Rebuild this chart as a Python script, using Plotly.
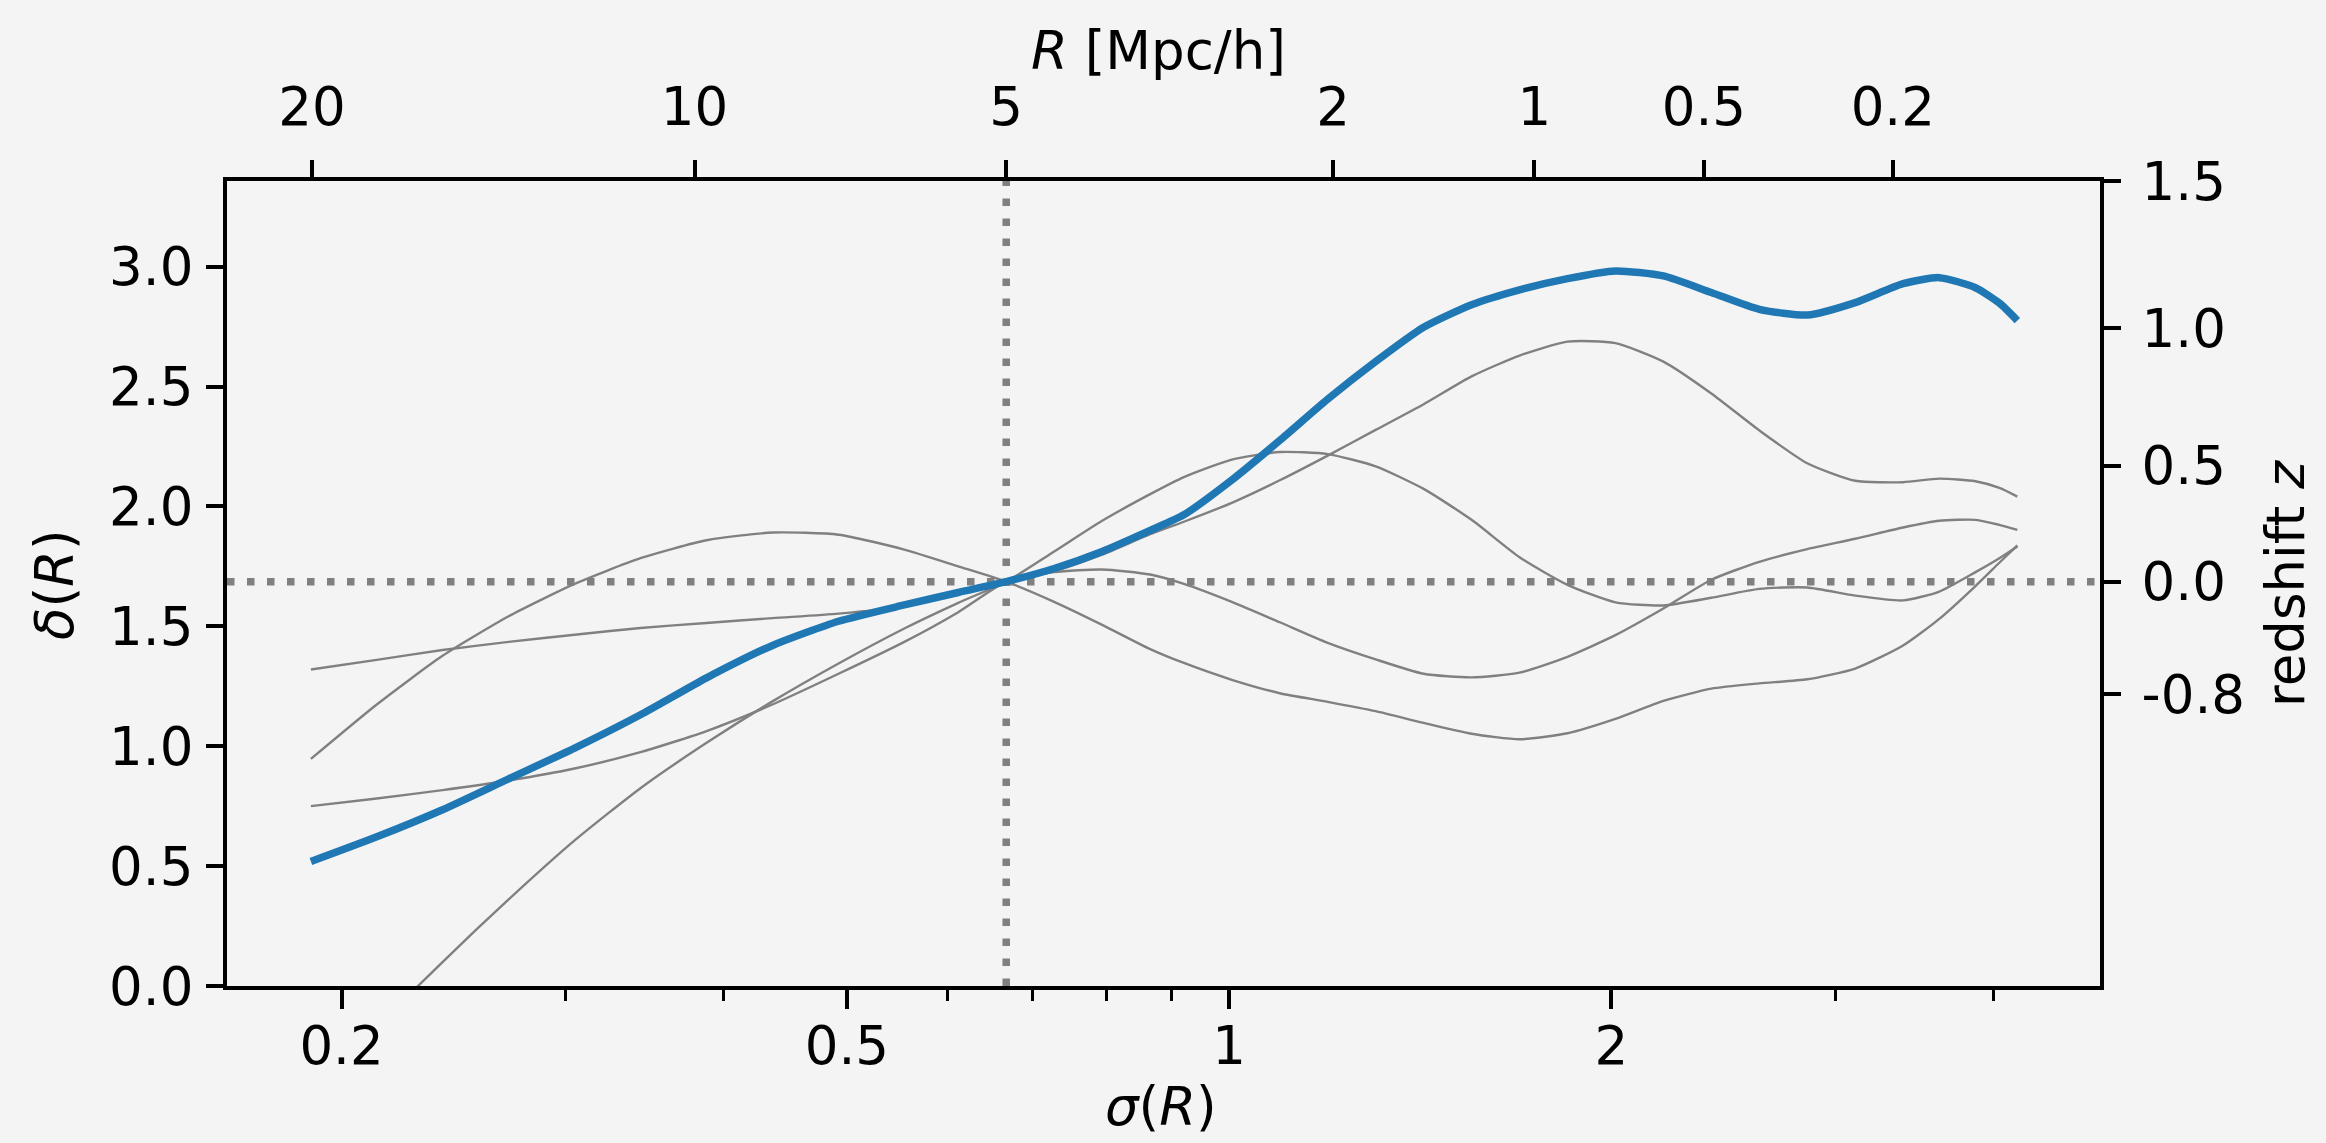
import math
import plotly.graph_objects as go

# ---------------- data ----------------
sigma = [0.1892, 0.2132, 0.2402, 0.2708, 0.3052, 0.3439, 0.3877, 0.4369, 0.4925, 0.5549,
         0.6119, 0.6675, 0.7281, 0.7943, 0.8666, 0.9212, 1.0048, 1.0961, 1.1957, 1.3043,
         1.4228, 1.5520, 1.6930, 1.8468, 2.0145, 2.1975, 2.3971, 2.6148, 2.8523, 3.1114,
         3.3940, 3.6240, 3.8698, 4.0410, 4.1750]

delta_blue = [0.519, 0.622, 0.735, 0.864, 0.992, 1.131, 1.285, 1.420, 1.521, 1.589,
              1.641, 1.686, 1.741, 1.812, 1.900, 1.965, 2.110, 2.275, 2.447, 2.604,
              2.747, 2.841, 2.903, 2.950, 2.982, 2.961, 2.892, 2.822, 2.798, 2.850,
              2.929, 2.954, 2.912, 2.848, 2.775]

delta_gray_a = [0.947, 1.174, 1.377, 1.542, 1.677, 1.784, 1.859, 1.891, 1.882, 1.820,
                1.750, 1.686, 1.602, 1.506, 1.405, 1.347, 1.277, 1.221, 1.185, 1.146,
                1.097, 1.052, 1.029, 1.054, 1.114, 1.189, 1.240, 1.262, 1.279, 1.324,
                1.420, 1.531, 1.668, 1.765, 1.837]

delta_gray_flat = [1.320, 1.360, 1.401, 1.435, 1.465, 1.493, 1.514, 1.534, 1.553, 1.583,
                   1.634, 1.686, 1.726, 1.737, 1.716, 1.677, 1.602, 1.517, 1.431, 1.362,
                   1.302, 1.287, 1.307, 1.373, 1.463, 1.574, 1.694, 1.769, 1.822, 1.865,
                   1.912, 1.940, 1.944, 1.923, 1.902]

delta_gray_steep = [-0.484, -0.174, 0.100, 0.361, 0.607, 0.825, 1.014, 1.187, 1.345, 1.491,
                    1.598, 1.686, 1.812, 1.940, 2.051, 2.122, 2.195, 2.227, 2.218, 2.167,
                    2.073, 1.944, 1.788, 1.673, 1.600, 1.587, 1.619, 1.656, 1.662, 1.628,
                    1.608, 1.645, 1.726, 1.784, 1.833]

delta_gray_b = [0.750, 0.782, 0.817, 0.857, 0.907, 0.975, 1.063, 1.174, 1.302, 1.435,
                1.559, 1.686, 1.730, 1.799, 1.884, 1.936, 2.015, 2.109, 2.212, 2.319,
                2.426, 2.542, 2.629, 2.687, 2.681, 2.604, 2.471, 2.317, 2.180, 2.107,
                2.101, 2.116, 2.105, 2.077, 2.041]

gray_curves = [delta_gray_a, delta_gray_flat, delta_gray_steep, delta_gray_b]

# reference lines
delta_c = 1.686
sigma_c = 0.6675

# axis ranges
sigma_min, sigma_max = 0.1625, 4.85
delta_min, delta_max = 0.0, 3.357

# bottom axis ticks (sigma)
x_tickvals = [0.2, 0.5, 1, 2]
x_ticktext = ["0.2", "0.5", "1", "2"]
x_minor = [0.3, 0.4, 0.6, 0.7, 0.8, 0.9, 3, 4]

# top axis ticks (R in Mpc/h located at sigma(R))
R_labels = ["20", "10", "5", "2", "1", "0.5", "0.2"]
R_sigma = [0.1896, 0.3793, 0.6675, 1.2074, 1.7395, 2.3650, 3.3310]

# left axis ticks
y_tickvals = [0.0, 0.5, 1.0, 1.5, 2.0, 2.5, 3.0]
y_ticktext = ["0.0", "0.5", "1.0", "1.5", "2.0", "2.5", "3.0"]

# right axis ticks (redshift z located at delta_c / D(z))
z_labels = ["-0.8", "0.0", "0.5", "1.0", "1.5"]
z_delta = [1.217, 1.686, 2.170, 2.744, 3.356]

# ---------------- figure ----------------
BG = "#f4f4f4"
FONT = "DejaVu Sans"
FS = 53
W, H = 2326, 1143
ML, MR, MT, MB = 227, 226, 181, 157
PW = W - ML - MR
PH = H - MT - MB

fig = go.Figure()

dot = dict(color="#808080", width=7.5, dash="7.5px,12.5px")
fig.add_trace(go.Scatter(x=[sigma_c, sigma_c], y=[delta_min, delta_max], mode="lines",
                         line=dot, showlegend=False, hoverinfo="skip"))
fig.add_trace(go.Scatter(x=[sigma_min, sigma_max], y=[delta_c, delta_c], mode="lines",
                         line=dot, showlegend=False, hoverinfo="skip"))

for d in gray_curves:
    fig.add_trace(go.Scatter(x=sigma, y=d, mode="lines",
                             line=dict(color="#808080", width=2.4, shape="spline",
                                       smoothing=0.6),
                             showlegend=False))

fig.add_trace(go.Scatter(x=sigma, y=delta_blue, mode="lines",
                         line=dict(color="#1f77b4", width=7.5, shape="spline",
                                   smoothing=0.6),
                         showlegend=False))

# dummy traces to attach the secondary axes
fig.add_trace(go.Scatter(x=[sigma_c], y=[None], xaxis="x2", yaxis="y",
                         mode="lines", showlegend=False, hoverinfo="skip"))
fig.add_trace(go.Scatter(x=[sigma_c], y=[None], xaxis="x", yaxis="y2",
                         mode="lines", showlegend=False, hoverinfo="skip"))

tickfont = dict(family=FONT, size=FS, color="black")
common = dict(showline=True, linecolor="black", linewidth=4, ticks="outside",
              tickwidth=4, tickcolor="black", showgrid=False, zeroline=False,
              tickfont=tickfont, tickmode="array")

xr = [math.log10(sigma_min), math.log10(sigma_max)]

fig.update_layout(
    width=W, height=H,
    margin=dict(l=ML, r=MR, t=MT, b=MB, pad=0),
    paper_bgcolor=BG, plot_bgcolor=BG,
    font=dict(family=FONT, size=FS, color="black"),
    xaxis=dict(type="log", range=xr, tickvals=x_tickvals, ticktext=x_ticktext,
               ticklen=19, domain=[0, 1], ticklabelstandoff=-9,
               minor=dict(tickmode="array", tickvals=x_minor, ticks="outside",
                          ticklen=11, tickwidth=3, tickcolor="black"),
               **common),
    xaxis2=dict(type="log", range=xr, overlaying="x", side="top",
                tickvals=R_sigma, ticktext=R_labels, ticklen=17,
                ticklabelstandoff=14, **common),
    yaxis=dict(range=[delta_min, delta_max], tickvals=y_tickvals, ticktext=y_ticktext,
               ticklen=17, ticklabelstandoff=2, **common),
    yaxis2=dict(range=[delta_min, delta_max], overlaying="y", side="right",
                tickvals=z_delta, ticktext=z_labels, ticklen=17,
                ticklabelstandoff=10, **common),
)

def px_x(px):
    return (px - ML) / PW

def px_y(py):
    return (H - MB - py) / PH

annos = [
    dict(text="<i>σ</i>(<i>R</i>)", x=px_x(1161), y=px_y(1106), textangle=0),
    dict(text="<i>R</i> [Mpc/h]", x=px_x(1158), y=px_y(51), textangle=0),
    dict(text="<i>δ</i>(<i>R</i>)", x=px_x(54), y=px_y(585), textangle=-90),
    dict(text="redshift <i>z</i>", x=px_x(2285), y=px_y(584), textangle=-90),
]
for a in annos:
    fig.add_annotation(xref="paper", yref="paper", showarrow=False,
                       xanchor="center", yanchor="middle",
                       font=dict(family=FONT, size=FS, color="black"), **a)

fig.write_html(
    "out.html",
    config={"displayModeBar": False},
    post_script="document.body.style.margin='0';document.body.style.padding='0';"
                "document.body.style.background='" + BG + "';",
)
